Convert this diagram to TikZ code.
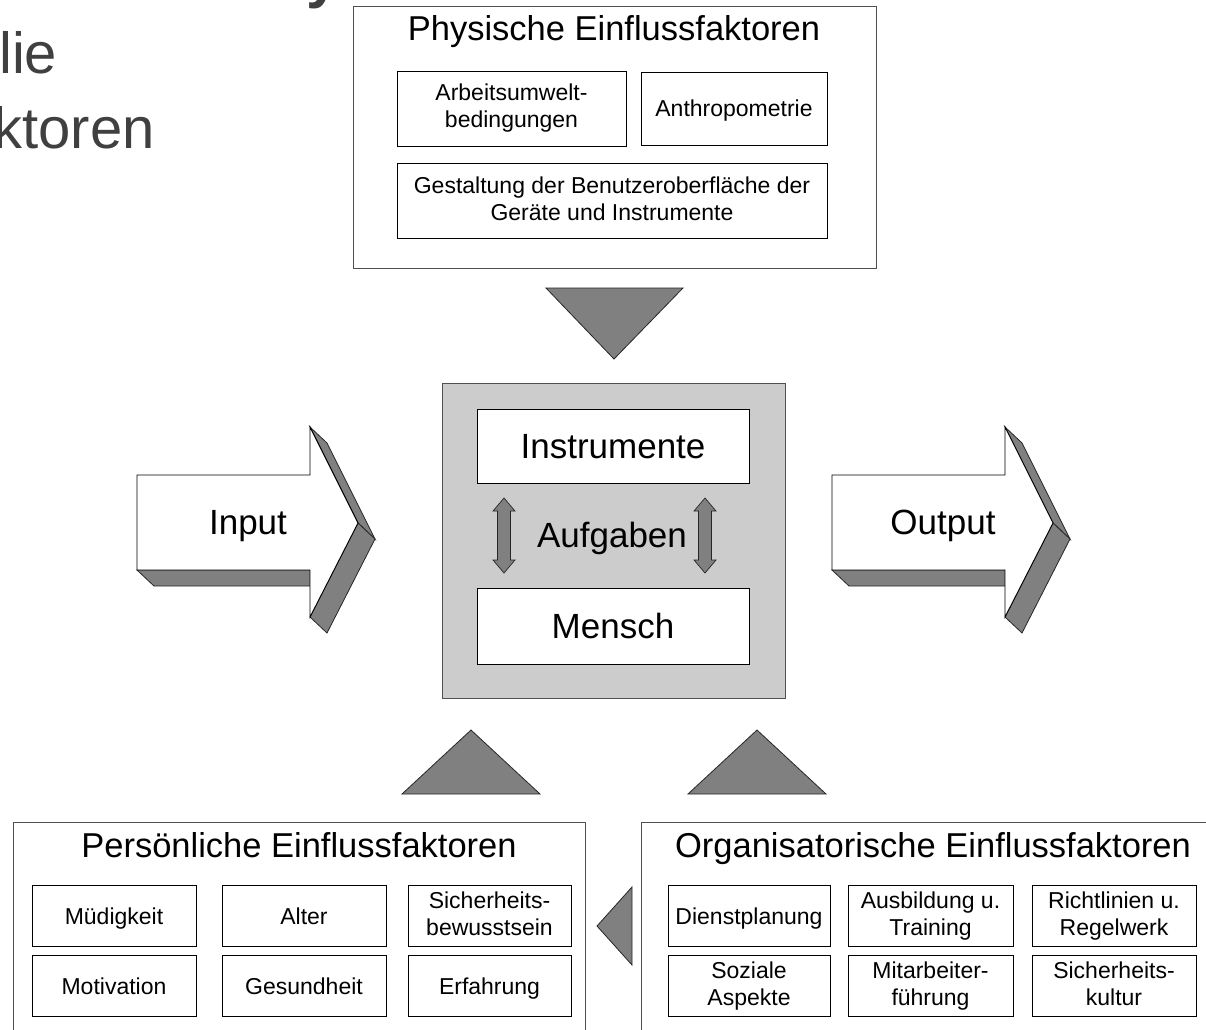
\documentclass[tikz,border=0pt]{standalone}
\usepackage{fontspec}
\setmainfont{Liberation Sans}
\definecolor{facet}{HTML}{808080}
\definecolor{core}{HTML}{CCCCCC}
\definecolor{frame}{HTML}{505050}
\definecolor{heading}{HTML}{404040}
% struts that give every line the same height and depth
\newcommand\cellstrut{\rule[-4.5pt]{0pt}{25.5pt}}
\newcommand\cellbreak{\\\cellstrut}
\newcommand\labelstrut{\rule[-7pt]{0pt}{39pt}}

\begin{document}
\begin{tikzpicture}[x=1pt,y=-1pt,
  panel/.style={draw=frame, line width=1.4pt, fill=white},
  cell/.style={draw=black, line width=1pt, fill=white, align=center,
    inner sep=0pt, font=\fontsize{23}{27}\selectfont,
    execute at begin node=\cellstrut},
  bigcell/.style={draw=black, line width=1pt, fill=white, inner sep=0pt,
    font=\fontsize{35}{40}\selectfont, execute at begin node=\labelstrut},
  paneltitle/.style={anchor=base, inner sep=0pt, font=\fontsize{34.5}{40}\selectfont},
  biglabel/.style={inner sep=0pt, font=\fontsize{35}{40}\selectfont,
    execute at begin node=\labelstrut},
  slidetext/.style={inner sep=0pt, text=heading, font=\fontsize{58}{60}\selectfont},
  wedge/.style={fill=facet, draw=black!85, line width=0.8pt, line join=miter},
  face/.style={fill=white, draw=black, line width=0.9pt, line join=miter},
  blockarrow/.pic={
    % side facets first, the front face covers them
    \path[wedge] (137,570) -- (154,586) -- (327,586) -- (310,570) -- cycle;
    \path[wedge] (310,427) -- (327,443) -- (375,539) -- (358,523) -- cycle;
    \path[wedge] (358,523) -- (375,539) -- (327,633) -- (310,617) -- cycle;
    \path[face] (137,475) -- (310,475) -- (310,427) -- (358,523)
      -- (310,617) -- (310,570) -- (137,570) -- cycle;
  }
]
\useasboundingbox (0,0) rectangle (1206,1029);

% fragments of the slide heading
\node[slidetext, anchor=base west, font=\fontsize{60}{60}\selectfont\bfseries] (headY) at (306,-4) {y};
\node[slidetext, anchor=base west] (headA) at (-1,73) {lie};
\node[slidetext, anchor=base east] (headB) at (155,148) {ktoren};

% physical factors
\node[panel, anchor=north west, minimum width=523pt, minimum height=262pt] (phys) at (353,6) {};
\node[paneltitle] (physT) at (614,40) {Physische Einflussfaktoren};
\node[cell, minimum width=229pt, minimum height=75pt] (arb) at (511.5,108.5) {Arbeitsumwelt-\cellbreak bedingungen};
\node[cell, minimum width=186pt, minimum height=73pt] (anthro) at (734,108.5) {Anthropometrie};
\node[cell, minimum width=430pt, minimum height=75pt] (gest) at (612,200.5) {Gestaltung der Benutzeroberfläche der\cellbreak Geräte und Instrumente};

\path[wedge] (546,288) -- (683,288) -- (614,359) -- cycle;

% work system core
\node[draw=frame, line width=1.4pt, fill=core, anchor=north west, minimum width=343pt, minimum height=315pt] (core) at (442,383) {};
\node[bigcell, minimum width=272pt, minimum height=74pt] (instr) at (613,446) {Instrumente};
\node[bigcell, minimum width=272pt, minimum height=76pt] (mensch) at (613,626) {Mensch};
\node[biglabel] (aufg) at (612,535) {Aufgaben};
\foreach \x in {504,705}{
  \path[wedge, line width=0.7pt] (\x,498) -- (\x+11,511) -- (\x+6.5,511) -- (\x+6.5,560)
    -- (\x+11,560) -- (\x,573) -- (\x-11,560) -- (\x-6.5,560) -- (\x-6.5,511)
    -- (\x-11,511) -- cycle;
}

% input and output
\pic (inArrow) at (0,0) {blockarrow};
\pic (outArrow) at (695,0) {blockarrow};
\node[biglabel] (input) at (248,522) {Input};
\node[biglabel] (output) at (943,522) {Output};

% influences from below
\path[wedge] (471,730) -- (540,794) -- (402,794) -- cycle;
\path[wedge] (757,730) -- (826,794) -- (688,794) -- cycle;
\path[wedge] (597,926) -- (632,887) -- (632,965) -- cycle;

% personal factors
\node[panel, anchor=north west, minimum width=572pt, minimum height=230pt] (pers) at (13,822) {};
\node[paneltitle] (persT) at (299,857) {Persönliche Einflussfaktoren};
\node[cell, minimum width=164pt, minimum height=61pt] (muede) at (114,916) {Müdigkeit};
\node[cell, minimum width=164pt, minimum height=61pt] (alter) at (304,916) {Alter};
\node[cell, minimum width=163pt, minimum height=61pt] (sibew) at (489.5,916) {Sicherheits-\cellbreak bewusstsein};
\node[cell, minimum width=164pt, minimum height=61pt] (motiv) at (114,986) {Motivation};
\node[cell, minimum width=164pt, minimum height=61pt] (gesund) at (304,986) {Gesundheit};
\node[cell, minimum width=163pt, minimum height=61pt] (erfahr) at (489.5,986) {Erfahrung};

% organisational factors
\node[panel, anchor=north west, minimum width=600pt, minimum height=230pt] (org) at (641,822) {};
\node[paneltitle] (orgT) at (933,857) {Organisatorische Einflussfaktoren};
\node[cell, minimum width=162pt, minimum height=61pt] (dienst) at (749,916) {Dienstplanung};
\node[cell, minimum width=165pt, minimum height=61pt] (ausb) at (930.5,916) {Ausbildung u.\cellbreak Training};
\node[cell, minimum width=164pt, minimum height=61pt] (richt) at (1114,916) {Richtlinien u.\cellbreak Regelwerk};
\node[cell, minimum width=162pt, minimum height=61pt] (sozial) at (749,986) {Soziale\cellbreak Aspekte};
\node[cell, minimum width=165pt, minimum height=61pt] (mitarb) at (930.5,986) {Mitarbeiter-\cellbreak führung};
\node[cell, minimum width=164pt, minimum height=61pt] (sikult) at (1114,986) {Sicherheits-\cellbreak kultur};
\end{tikzpicture}
\end{document}
